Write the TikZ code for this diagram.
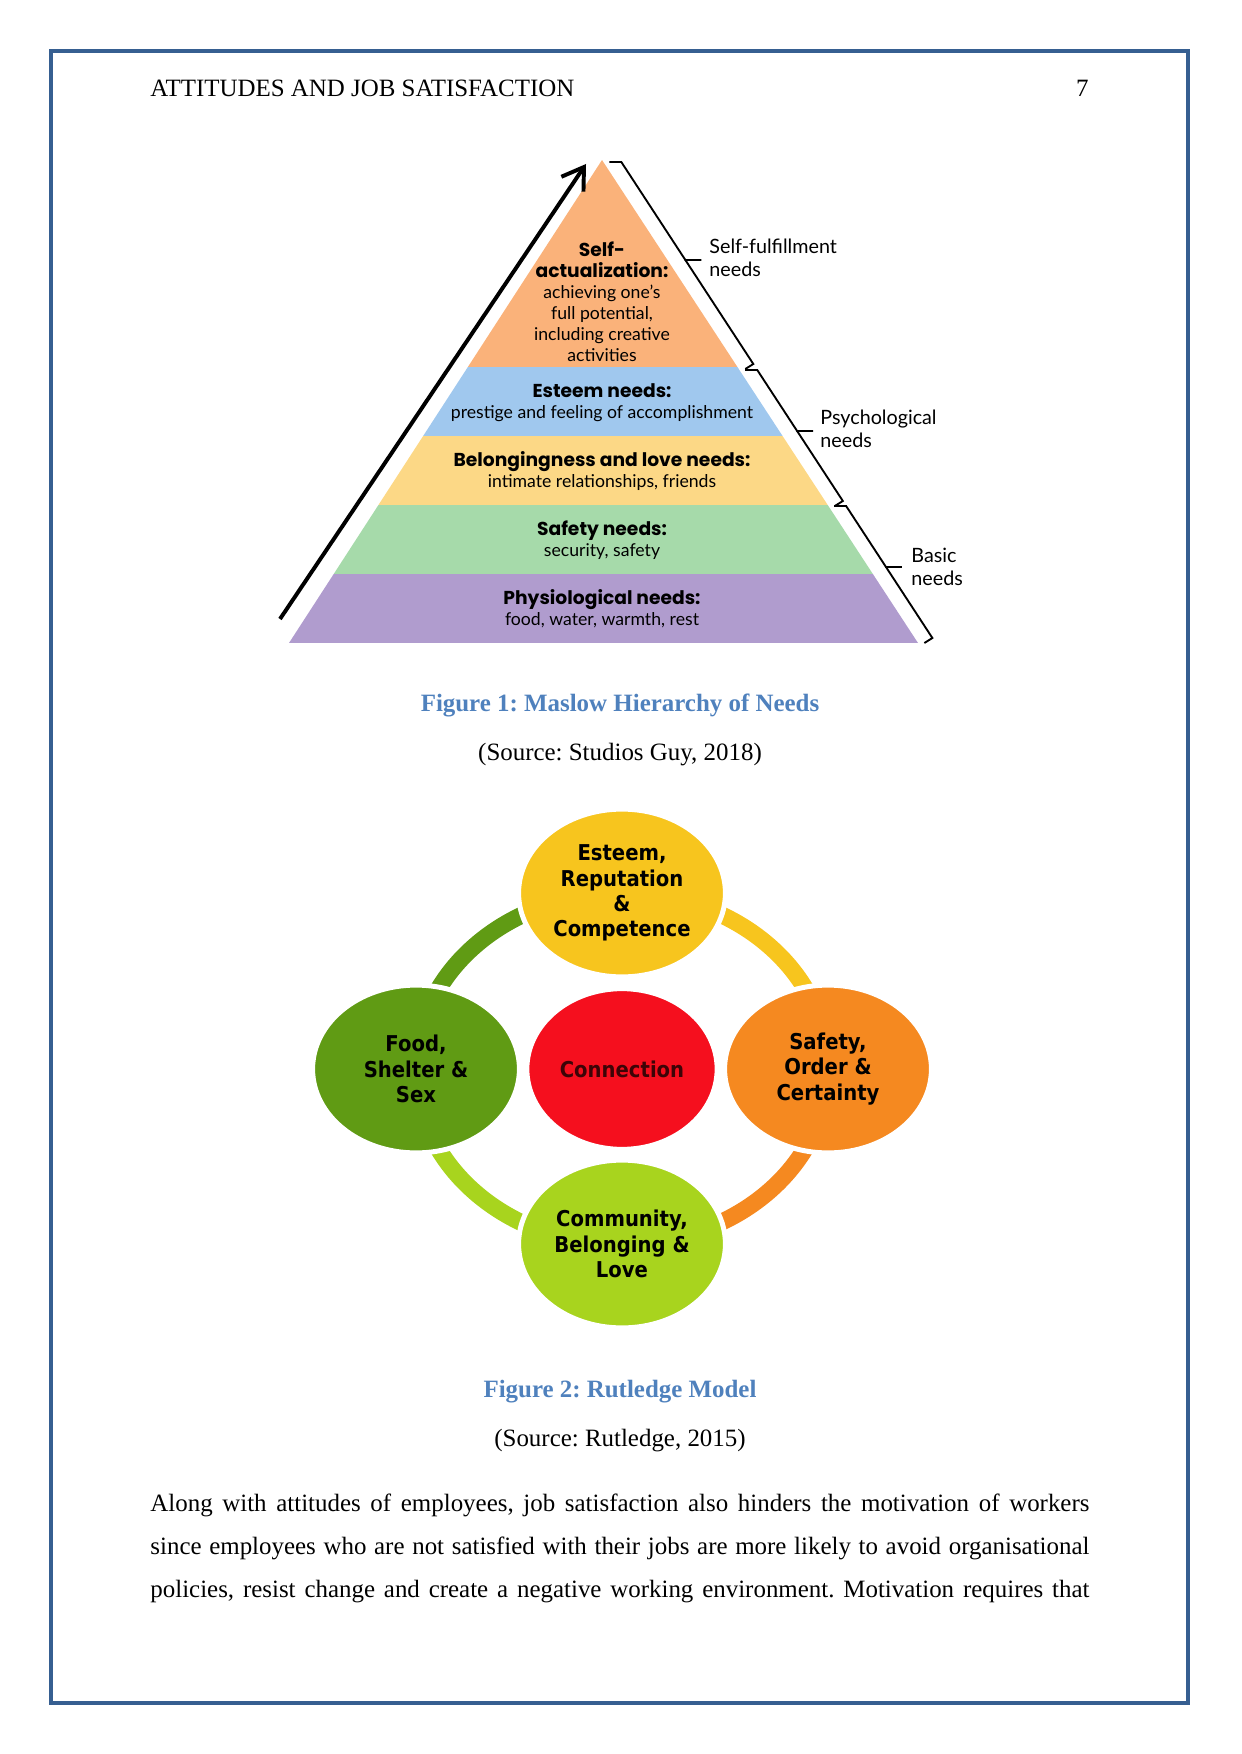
\documentclass[tikz,border=0pt]{standalone}
\usepackage{fontspec}
\setmainfont{Liberation Serif}
\newfontfamily\pyrfont{Lato}
\newfontfamily\pyrbold{Poppins}
\newfontfamily\rutfont{DejaVu Sans}[FakeStretch=0.9]
\usetikzlibrary{arrows.meta,positioning,shapes.geometric,backgrounds,calc}
\definecolor{frame}{RGB}{54,95,145}
\definecolor{capblue}{RGB}{79,129,189}
\definecolor{selfor}{RGB}{250,178,122}
\definecolor{estblue}{RGB}{160,200,238}
\definecolor{loveyel}{RGB}{252,216,134}
\definecolor{safegrn}{RGB}{166,218,170}
\definecolor{physpur}{RGB}{176,156,206}
\definecolor{rutyel}{RGB}{247,197,30}
\definecolor{rutgrn}{RGB}{96,155,20}
\definecolor{rutred}{RGB}{245,15,30}
\definecolor{rutorg}{RGB}{245,137,32}
\definecolor{rutlime}{RGB}{168,212,30}
\newcommand\pyrhead[1]{{\pyrbold\bfseries\fontsize{9}{10.1}\selectfont #1}}
\newcommand\docsize{\fontsize{12}{14}\selectfont}
\frenchspacing

\begin{document}
\begin{tikzpicture}[x=0.16922mm,y=-0.16922mm,
    layertext/.style={font=\pyrfont\fontsize{8.5}{10.1}\selectfont,align=center,inner sep=0pt},
    sidelabel/.style={font=\pyrfont\fontsize{9.5}{11.3}\selectfont,align=left,anchor=west,inner sep=0pt},
    bracket/.style={line width=0.9pt},
    ball/.style={ellipse,draw=white,line width=2.4pt,minimum width=35mm,minimum height=28.4mm,
      inner sep=0pt,align=center,font=\rutfont\bfseries\fontsize{10.5}{12.2}\selectfont},
    ringseg/.style={line width=8.2pt},
    caption/.style={font=\docsize\bfseries,text=capblue,anchor=base},
    srcline/.style={font=\docsize,anchor=base},
    bodyline/.style={font=\docsize,anchor=base west,inner sep=0pt}]
  \useasboundingbox (0,0) rectangle (1241,1754);
  \draw[frame,line width=2.2pt] (51,51) rectangle (1188,1703);
  % running head
  \node[font=\docsize,anchor=base west,inner sep=0pt] (head) at (150,97) {ATTITUDES AND JOB SATISFACTION};
  \node[font=\docsize,anchor=base east,inner sep=0pt] (page) at (1089,97) {7};

  % pyramid
  \begin{scope}
    \clip (602,160) -- (918,643) -- (289,643) -- cycle;
    \foreach \ytop/\ybot/\c in {160/367/selfor,367/436/estblue,436/505/loveyel,505/574/safegrn,574/643/physpur}
      \fill[\c] (280,\ytop) rectangle (930,\ybot);
  \end{scope}
  \node[layertext] (selfact) at (602,302) {\pyrhead{Self-}\\\pyrhead{actualization:}\\achieving one’s\\full potential,\\including creative\\activities};
  \node[layertext] (esteemtxt) at (602,403) {\pyrhead{Esteem needs:}\\prestige and feeling of accomplishment};
  \node[layertext] (lovetxt) at (602,471) {\pyrhead{Belongingness and love needs:}\\intimate relationships, friends};
  \node[layertext] (safetxt) at (602,540) {\pyrhead{Safety needs:}\\security, safety};
  \node[layertext] (phystxt) at (602,609) {\pyrhead{Physiological needs:}\\food, water, warmth, rest};
  \coordinate (arrlow) at (280,619);
  \coordinate (arrtop) at (586,164);
  \draw[line width=1.9pt,-{Straight Barb[length=3.5mm,width=4.5mm]}] (arrlow) -- (arrtop);
  % brackets on the right
  \foreach \ya/\yb/\ym [count=\k] in {162/364/260,370/501/431,506/638/567}{
    \coordinate (bt\k) at ({620+(\ya-160)*0.6535},\ya);
    \coordinate (bb\k) at ({620+(\yb-160)*0.6535},\yb);
    \coordinate (bm\k) at ({620+(\ym-160)*0.6535},\ym);
    \draw[bracket] ($(bt\k)+(-12,0)$) -- (bt\k) -- (bm\k) -- ++(16,0);
    \draw[bracket] (bm\k) -- (bb\k) -- ++(-8,5);
  }
  \node[sidelabel] (selfful) at (709,258) {Self-fulfillment\\needs};
  \node[sidelabel] (psych) at (820,429) {Psychological\\needs};
  \node[sidelabel] (basic) at (911,567) {Basic\\needs};

  \node[caption] (cap1) at (620,711) {Figure 1: Maslow Hierarchy of Needs};
  \node[srcline] (src1) at (620,760) {(Source: Studios Guy, 2018)};

  % rutledge model
  \node[ball,fill=rutyel] (esteem) at (622,893) {Esteem,\\Reputation\\\&\\Competence};
  \node[ball,fill=rutgrn] (food) at (416,1069) {Food,\\Shelter \&\\Sex};
  \node[ball,fill=rutred,minimum width=32.2mm,minimum height=27.2mm,text=rutred!25!black] (connect) at (622,1069) {Connection};
  \node[ball,fill=rutorg] (safety) at (828,1069) {Safety,\\Order \&\\Certainty};
  \node[ball,fill=rutlime] (community) at (622,1244) {Community,\\Belonging \&\\Love};
  \begin{scope}[on background layer]
    \draw[ringseg,rutyel] (safety.center) arc[start angle=0,end angle=90,x radius=34.86mm,y radius=29.78mm];
    \draw[ringseg,rutgrn] (esteem.center) arc[start angle=90,end angle=180,x radius=34.86mm,y radius=29.78mm];
    \draw[ringseg,rutlime] (food.center) arc[start angle=180,end angle=270,x radius=34.86mm,y radius=29.78mm];
    \draw[ringseg,rutorg] (community.center) arc[start angle=270,end angle=360,x radius=34.86mm,y radius=29.78mm];
  \end{scope}

  \node[caption] (cap2) at (620,1397) {Figure 2: Rutledge Model};
  \node[srcline] (src2) at (620,1446) {(Source: Rutledge, 2015)};

  % body text
  \foreach \txt [count=\i] in {{Along with attitudes of employees, job satisfaction also hinders the motivation of workers},
      {since employees who are not satisfied with their jobs are more likely to avoid organisational},
      {policies, resist change and create a negative working environment. Motivation requires that}}
    \node[bodyline] (body\i) at (150,{1511+43*(\i-1)}) {\makebox[158.9mm][s]{\txt}};
\end{tikzpicture}
\end{document}
